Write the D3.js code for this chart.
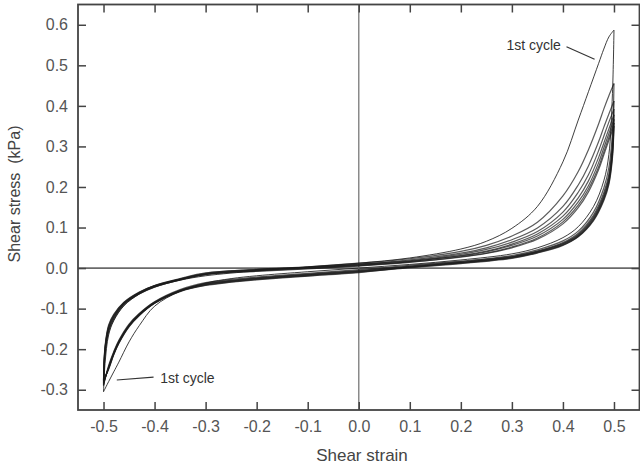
<!DOCTYPE html>
<html>
<head>
<meta charset="utf-8">
<script src="https://cdn.jsdelivr.net/npm/d3@7"></script>
<style>
  body { margin: 0; background: #fff; }
  svg { display: block; }
  text { font-family: "Liberation Sans", Arial, Helvetica, sans-serif; white-space: pre; }
</style>
</head>
<body>
<svg id="chart" width="640" height="468"></svg>
<script>
// Strain grids: loading runs -0.5 -> 0.5, unloading runs 0.5 -> -0.5
const loadStrain = [-0.5,-0.497,-0.49,-0.48,-0.46,-0.43,-0.4,-0.35,-0.3,-0.2,-0.1,0,0.1,0.2,0.25,0.3,0.35,0.4,0.43,0.45,0.47,0.48,0.49,0.5];
const unloadStrain = [0.5,0.497,0.49,0.48,0.46,0.43,0.4,0.35,0.3,0.2,0.1,0,-0.1,-0.2,-0.25,-0.3,-0.35,-0.4,-0.43,-0.45,-0.47,-0.48,-0.49,-0.5];

// Shear stress (kPa) on the loading branch of each cycle
const load1 = [-0.305,-0.235,-0.165,-0.13,-0.093,-0.064,-0.047,-0.03,-0.019,-0.007,0.003,0.012,0.025,0.047,0.066,0.098,0.152,0.262,0.365,0.435,0.505,0.54,0.57,0.587];
const load2 = [-0.29,-0.215,-0.158,-0.127,-0.091,-0.064,-0.047,-0.029,-0.015,-0.004,0.003,0.012,0.023,0.041,0.056,0.079,0.113,0.178,0.238,0.292,0.356,0.392,0.425,0.455];
const load3 = [-0.288,-0.21,-0.155,-0.125,-0.089,-0.063,-0.046,-0.029,-0.016,-0.006,0.001,0.009,0.02,0.037,0.05,0.07,0.099,0.152,0.205,0.252,0.312,0.347,0.38,0.412];
const load4 = [-0.285,-0.205,-0.152,-0.122,-0.088,-0.062,-0.045,-0.027,-0.013,-0.003,0.002,0.01,0.018,0.034,0.046,0.064,0.09,0.138,0.187,0.23,0.29,0.325,0.36,0.392];
const load5 = [-0.283,-0.2,-0.148,-0.12,-0.087,-0.061,-0.044,-0.028,-0.015,-0.007,-0.001,0.006,0.016,0.031,0.042,0.059,0.084,0.128,0.173,0.215,0.273,0.308,0.343,0.378];
const load6 = [-0.28,-0.198,-0.146,-0.118,-0.086,-0.06,-0.043,-0.026,-0.012,-0.004,0.002,0.008,0.017,0.03,0.04,0.056,0.079,0.12,0.163,0.203,0.26,0.296,0.332,0.367];
const load7 = [-0.278,-0.195,-0.143,-0.116,-0.085,-0.06,-0.044,-0.028,-0.016,-0.008,-0.002,0.005,0.014,0.028,0.037,0.052,0.074,0.114,0.155,0.195,0.25,0.286,0.322,0.358];
const load8 = [-0.276,-0.192,-0.14,-0.114,-0.084,-0.059,-0.043,-0.027,-0.014,-0.005,0.0,0.007,0.015,0.027,0.036,0.05,0.071,0.109,0.149,0.188,0.243,0.279,0.315,0.35];

// Shear stress (kPa) on the unloading branch of each cycle
const unload1 = [0.587,0.43,0.28,0.215,0.152,0.102,0.075,0.05,0.035,0.02,0.009,0.0,-0.009,-0.019,-0.026,-0.037,-0.057,-0.094,-0.142,-0.182,-0.232,-0.256,-0.28,-0.305];
const unload2 = [0.455,0.335,0.248,0.197,0.138,0.091,0.067,0.045,0.031,0.017,0.007,-0.004,-0.013,-0.022,-0.028,-0.036,-0.053,-0.083,-0.112,-0.138,-0.178,-0.206,-0.24,-0.29];
const unload3 = [0.412,0.31,0.232,0.186,0.131,0.086,0.063,0.042,0.029,0.016,0.005,-0.006,-0.015,-0.024,-0.03,-0.038,-0.055,-0.084,-0.113,-0.14,-0.18,-0.208,-0.243,-0.288];
const unload4 = [0.392,0.298,0.224,0.18,0.127,0.083,0.061,0.041,0.028,0.014,0.003,-0.008,-0.017,-0.026,-0.032,-0.04,-0.056,-0.085,-0.114,-0.141,-0.182,-0.21,-0.245,-0.285];
const unload5 = [0.378,0.29,0.219,0.176,0.124,0.081,0.06,0.04,0.027,0.014,0.004,-0.007,-0.016,-0.025,-0.031,-0.039,-0.055,-0.086,-0.115,-0.142,-0.183,-0.211,-0.246,-0.283];
const unload6 = [0.367,0.283,0.214,0.172,0.121,0.079,0.058,0.039,0.026,0.013,0.002,-0.01,-0.019,-0.028,-0.034,-0.042,-0.057,-0.086,-0.116,-0.143,-0.184,-0.212,-0.247,-0.28];
const unload7 = [0.358,0.277,0.21,0.169,0.119,0.078,0.057,0.038,0.025,0.012,0.002,-0.009,-0.018,-0.027,-0.033,-0.041,-0.057,-0.087,-0.117,-0.144,-0.185,-0.213,-0.248,-0.278];
const unload8 = [0.35,0.271,0.206,0.166,0.117,0.077,0.056,0.037,0.024,0.011,0.001,-0.011,-0.02,-0.029,-0.035,-0.043,-0.058,-0.087,-0.117,-0.145,-0.186,-0.214,-0.25,-0.276];

const loadSeries = [load1, load2, load3, load4, load5, load6, load7, load8];
const unloadSeries = [unload1, unload2, unload3, unload4, unload5, unload6, unload7, unload8];

const xTickValues = [-0.5,-0.4,-0.3,-0.2,-0.1,0,0.1,0.2,0.3,0.4,0.5];
const yTickValues = [-0.3,-0.2,-0.1,0,0.1,0.2,0.3,0.4,0.5,0.6];

const xTitle = "Shear strain";
const yTitle = "Shear stress  (kPa)";

// Annotation text, anchor point and leader end points, in data units
const noteText = ["1st cycle", "1st cycle"];
const noteAt = [[0.396, 0.538], [-0.389, -0.283]];
const noteAnchor = ["end", "start"];
const leaderFrom = [[0.407, 0.546], [-0.474, -0.276]];
const leaderTo = [[0.462, 0.515], [-0.402, -0.269]];

const svg = d3.select("#chart");
const x = d3.scaleLinear().domain([-0.55, 0.55]).range([78, 639.5]);
const y = d3.scaleLinear().domain([-0.35, 0.65]).range([410, 4.5]);
const [x0, x1] = x.range();
const [y0, y1] = y.range();

// zero reference lines
svg.append("line").attr("x1", x0).attr("x2", x1).attr("y1", y(0)).attr("y2", y(0))
  .attr("stroke", "#6a6a6a").attr("stroke-width", 1.6);
svg.append("line").attr("x1", x(0)).attr("x2", x(0)).attr("y1", y0).attr("y2", y1)
  .attr("stroke", "#8a8a8a").attr("stroke-width", 1.5);

// hysteresis loops
const line = d3.line().x(d => x(d[0])).y(d => y(d[1])).curve(d3.curveCatmullRom.alpha(0.5));
const loops = svg.append("g").attr("fill", "none").attr("stroke", "#1c1c1c")
  .attr("stroke-linejoin", "round");
loadSeries.forEach((vals, i) => {
  const w = i === 0 ? 1 : 1.2;
  const op = i === 0 ? 0.85 : 0.72;
  loops.append("path").attr("d", line(loadStrain.map((s, j) => [s, vals[j]])))
    .attr("stroke-width", w).attr("stroke-opacity", op);
  loops.append("path").attr("d", line(unloadStrain.map((s, j) => [s, unloadSeries[i][j]])))
    .attr("stroke-width", w).attr("stroke-opacity", op);
});

// axes with inward ticks on all four sides
const tickColor = "#444";
function styleAxis(g) {
  g.select(".domain").remove();
  g.selectAll(".tick line").attr("stroke", tickColor).attr("stroke-width", 1.5);
  g.selectAll(".tick text").attr("fill", "#555").style("font-size", "16px")
    .style("font-family", '"Liberation Sans", Arial, sans-serif');
}
const fmt = v => d3.format(".1f")(v).replace("\u2212", "-").replace("-0.0", "0.0");
svg.append("g").attr("transform", `translate(0,${y0})`)
  .call(d3.axisBottom(x).tickValues(xTickValues).tickFormat(fmt).tickSizeInner(-8).tickSizeOuter(0).tickPadding(10.5))
  .call(styleAxis);
svg.append("g").attr("transform", `translate(${x0},0)`)
  .call(d3.axisLeft(y).tickValues(yTickValues).tickFormat(fmt).tickSizeInner(-8).tickSizeOuter(0).tickPadding(10))
  .call(styleAxis);
svg.append("g").attr("transform", `translate(0,${y1})`)
  .call(d3.axisTop(x).tickValues(xTickValues).tickFormat("").tickSizeInner(-8).tickSizeOuter(0))
  .call(styleAxis);
svg.append("g").attr("transform", `translate(${x1},0)`)
  .call(d3.axisRight(y).tickValues(yTickValues).tickFormat("").tickSizeInner(-8).tickSizeOuter(0))
  .call(styleAxis);

// frame
svg.append("rect").attr("x", x0).attr("y", y1).attr("width", x1 - x0).attr("height", y0 - y1)
  .attr("fill", "none").attr("stroke", "#444").attr("stroke-width", 1.8);

// axis titles
svg.append("text").attr("x", 362).attr("y", 461).attr("text-anchor", "middle")
  .attr("fill", "#444").style("font-size", "17px").text(xTitle);
svg.append("text").attr("transform", "translate(20,194) rotate(-90)")
  .attr("text-anchor", "middle").attr("fill", "#444").style("font-size", "16px").text(yTitle);

// cycle annotations
noteText.forEach((t, i) => {
  svg.append("text").attr("x", x(noteAt[i][0])).attr("y", y(noteAt[i][1]))
    .attr("text-anchor", noteAnchor[i]).attr("fill", "#333").style("font-size", "14px").text(t);
  svg.append("line")
    .attr("x1", x(leaderFrom[i][0])).attr("y1", y(leaderFrom[i][1]))
    .attr("x2", x(leaderTo[i][0])).attr("y2", y(leaderTo[i][1]))
    .attr("stroke", "#333").attr("stroke-width", 1.1);
});
</script>
</body>
</html>
